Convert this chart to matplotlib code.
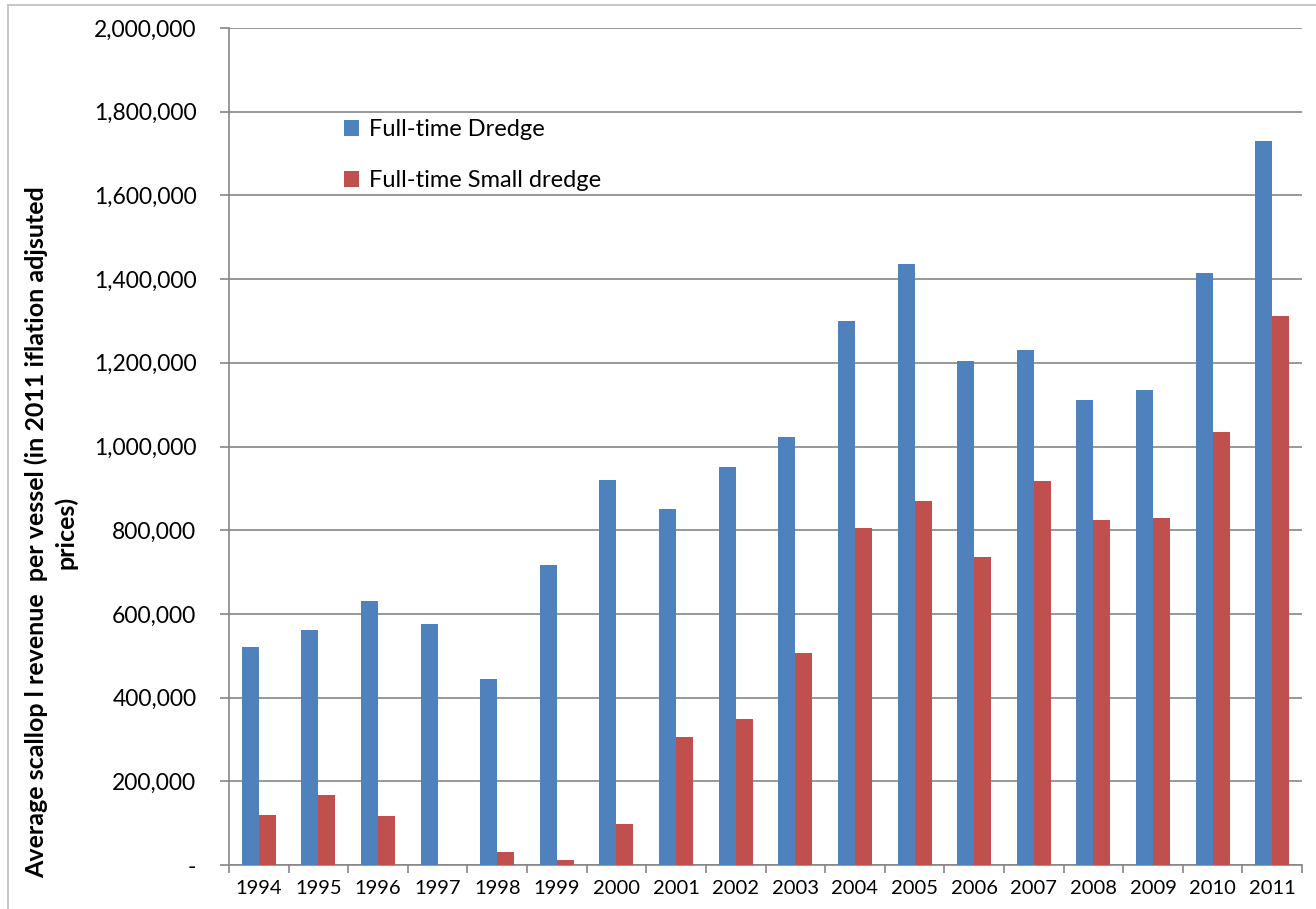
import matplotlib
matplotlib.use('Agg')
import matplotlib.pyplot as plt
import numpy as np
from matplotlib.ticker import FuncFormatter

years = ['1994', '1995', '1996', '1997', '1998', '1999', '2000', '2001', '2002',
         '2003', '2004', '2005', '2006', '2007', '2008', '2009', '2010', '2011']
dredge = [520000, 562000, 630000, 575000, 445000, 718000, 920000, 850000, 950000,
          1023000, 1300000, 1435000, 1205000, 1230000, 1110000, 1135000, 1415000, 1730000]
small_dredge = [119000, 167000, 116000, 0, 32000, 11000, 97000, 305000, 350000,
                507000, 805000, 870000, 737000, 917000, 825000, 830000, 1035000, 1312000]

plt.rcParams['font.family'] = ['Lato', 'DejaVu Sans']

fig = plt.figure(figsize=(13.16, 9.09), dpi=100)
ax = fig.add_axes([229 / 1316, 1 - 865 / 909, (1302 - 229) / 1316, (865 - 28) / 909])

x = np.arange(len(years))
w = 0.285
ax.bar(x - w / 2, dredge, w, color='#4F81BD', label='Full-time Dredge', zorder=3)
ax.bar(x + w / 2, small_dredge, w, color='#C0504D', label='Full-time Small dredge', zorder=3)

ax.set_xlim(-0.5, len(years) - 0.5)
ax.set_ylim(0, 2000000)
ax.set_yticks(np.arange(0, 2000001, 200000))
ax.yaxis.set_major_formatter(FuncFormatter(lambda v, p: '-' if v == 0 else '{:,.0f}'.format(v)))
ax.yaxis.grid(True, color='#868686', linewidth=1.2, zorder=0)

# ticks between categories, labels centred
ax.set_xticks(np.arange(-0.5, len(years), 1.0))
ax.set_xticklabels([])
ax.set_xticks(x, minor=True)
ax.set_xticklabels(years, minor=True, fontsize=14.5)
ax.tick_params(axis='x', which='minor', length=0, pad=11)
ax.tick_params(axis='x', which='major', length=6, color='#868686', width=1.2)
ax.tick_params(axis='y', length=6.5, color='#868686', width=1.2, labelsize=16.5, pad=17)

for s in ['top', 'right']:
    ax.spines[s].set_visible(False)
for s in ['left', 'bottom']:
    ax.spines[s].set_color('#868686')
    ax.spines[s].set_linewidth(1.2)

fig.text(51 / 1316, 1 - 532 / 909,
         'Average scallop l revenue  per vessel (in 2011 iflation adjsuted\nprices)',
         rotation=90, ha='center', va='center', multialignment='center',
         fontsize=18, fontweight='bold', linespacing=1.25)

ax.legend(loc='upper left', bbox_to_anchor=(0.107, 0.891), frameon=False, fontsize=17,
          borderpad=0, borderaxespad=0,
          handlelength=0.65, handleheight=0.65, handletextpad=0.4, labelspacing=1.28)

# light frame around the chart
fig.add_artist(plt.Line2D([8 / 1316, 8 / 1316], [0, 1 - 5 / 909], color='#BFBFBF', linewidth=1.2))
fig.add_artist(plt.Line2D([8 / 1316, 1], [1 - 5 / 909, 1 - 5 / 909], color='#BFBFBF', linewidth=1.2))

fig.savefig('out.png', dpi=100)
